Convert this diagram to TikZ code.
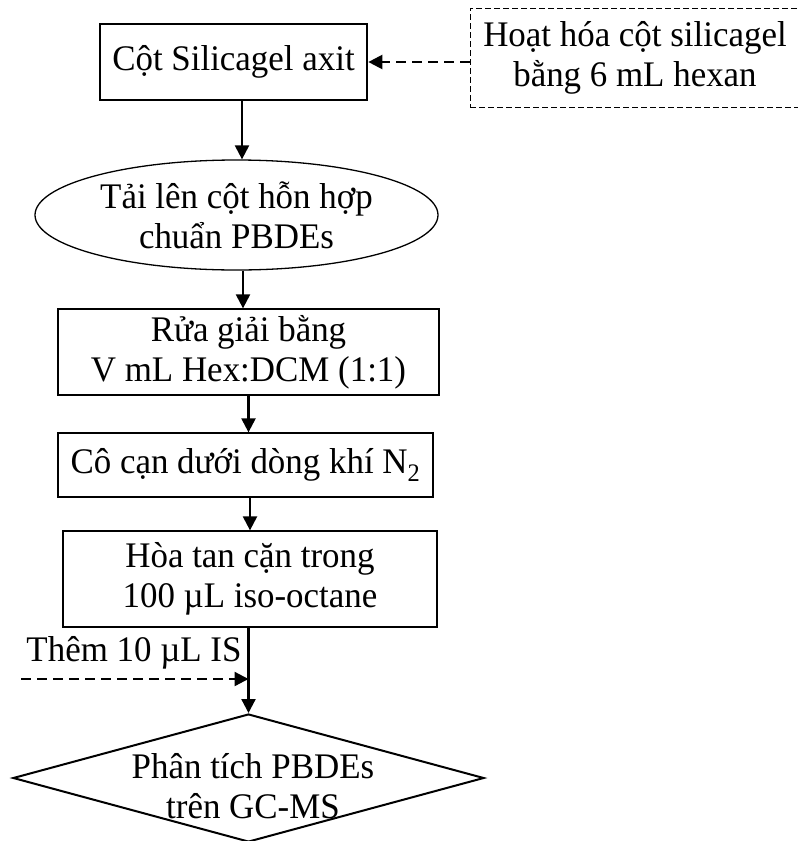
\documentclass[tikz,border=0pt]{standalone}
\usepackage{fontspec}
\setmainfont{Liberation Serif}[FakeStretch=0.97]
\usetikzlibrary{shapes.geometric,arrows.meta}
\begin{document}
\begin{tikzpicture}[x=1pt,y=-1pt,
  txt/.style={font=\fontsize{36}{40}\selectfont, align=center, inner sep=0pt},
  stepbox/.style={txt, draw, line width=1.3pt, rectangle},
  arr/.style={line width=2.3pt, -{Triangle[length=14pt,width=14pt]}},
  dasharr/.style={arr, dash pattern=on 10pt off 6pt}]
\useasboundingbox (0,0) rectangle (798,841);

% column of steps
\node[stepbox, line width=2.7pt, minimum width=267pt, minimum height=76pt] (b1) at (233.5,62) {Cột Silicagel axit};
\node[stepbox, line width=1pt, dash pattern=on 6pt off 3pt, minimum width=330pt, minimum height=99pt] (act) at (635,57.5)
  {Hoạt hóa cột silicagel\\bằng 6 mL hexan};
\node[txt, draw, ellipse, line width=1.3pt, minimum width=403pt, minimum height=110pt] (load) at (236.5,215)
  {Tải lên cột hỗn hợp\\chuẩn PBDEs};
\node[stepbox, minimum width=381pt, minimum height=86pt] (elute) at (248.5,352)
  {Rửa giải bằng\\V mL Hex:DCM (1:1)};
\node[stepbox, minimum width=375pt, minimum height=64pt] (dry) at (245.5,465)
  {Cô cạn dưới dòng khí N\textsubscript{2}};
\node[stepbox, minimum width=374pt, minimum height=96pt] (dis) at (250,579)
  {Hòa tan cặn trong\\100 µL iso-octane};
\node[draw, diamond, line width=2pt, inner sep=0pt, aspect=3.68, minimum width=471pt, minimum height=128pt] (gc) at (248.5,778) {};
\node[txt] (gct) at (253,786) {Phân tích PBDEs\\trên GC-MS};

% side input
\coordinate (isin) at (21,679);
\node[txt, anchor=center] (islab) at (134,653) {Thêm 10 µL IS};

% connectors
\draw[dasharr] (act.west |- b1.east) -- (b1.east);
\draw[arr] ([xshift=8.5pt]b1.south) -- ([xshift=8.5pt]b1.south |- load.north);
\draw[arr] ([xshift=6.5pt]load.south) -- ([xshift=6.5pt]load.south |- elute.north);
\draw[arr] (elute.south) -- (elute.south |- dry.north);
\draw[arr] ([xshift=4.5pt]dry.south) -- ([xshift=4.5pt]dry.south |- dis.north);
\draw[arr] ([xshift=-1.5pt]dis.south) -- (gc.north);
\draw[dasharr] (isin) -- (isin -| gc.north);
\end{tikzpicture}
\end{document}
